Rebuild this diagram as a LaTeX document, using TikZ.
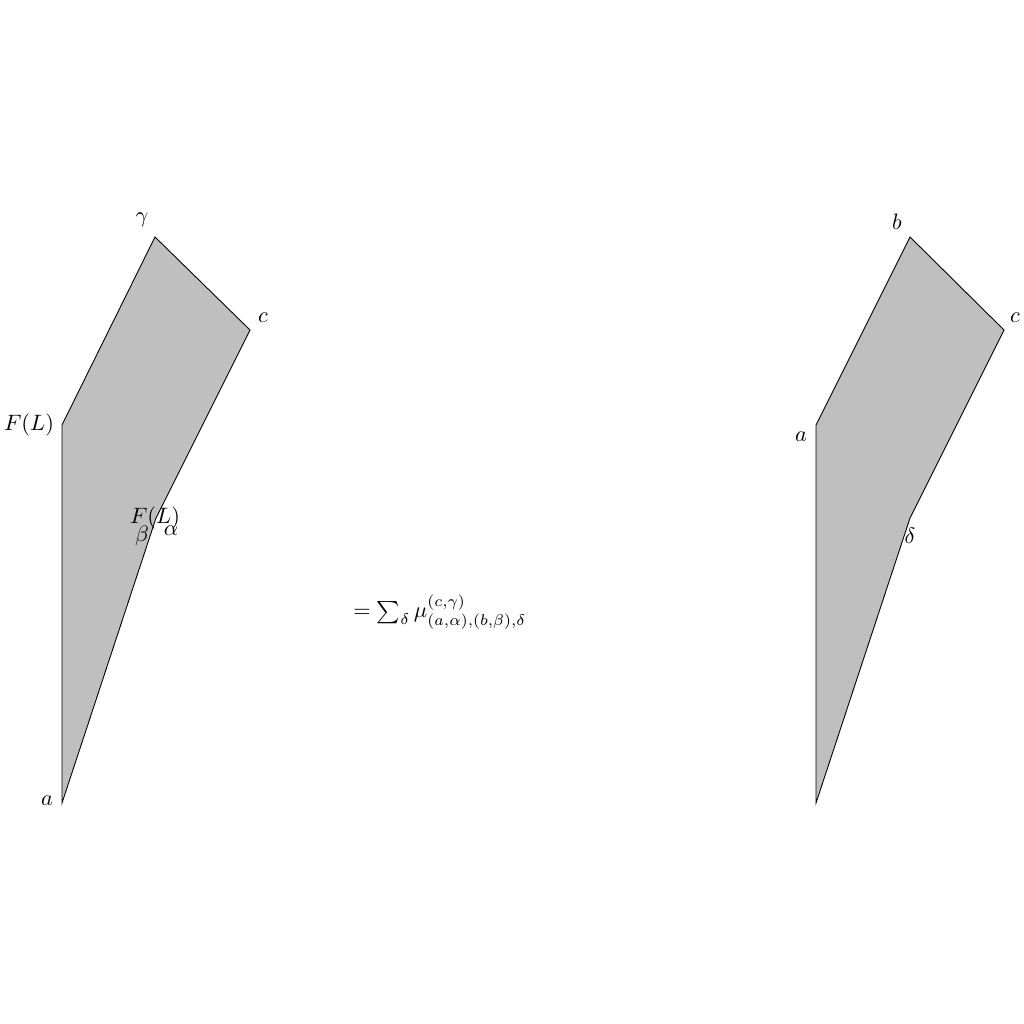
\documentclass[tikz,border=0pt]{standalone}
\begin{document}
\begin{tikzpicture}[x=0.449pt,y=-0.449pt,
  region/.style={draw=black,fill=gray!50,line width=0.4pt,line join=miter},
  lbl/.style={inner sep=0pt}]
\useasboundingbox (0,0) rectangle (1024,1024);
% left region
\coordinate (LA) at (62,425);
\coordinate (LB) at (155,237);
\coordinate (LC) at (250,330);
\coordinate (LK) at (156,518);
\coordinate (LD) at (62,803);
\draw[region] (LA) -- (LB) -- (LC) -- (LK) -- (LD) -- cycle;
\node[lbl] (lgamma) at (142,220) {$\gamma$};
\node[lbl] (lc) at (263,318) {$c$};
\node[lbl] (lFL) at (29,425) {$F(L)$};
\node[lbl] (la) at (47,801) {$a$};
\node[lbl] (lFL2) at (155,518) {$F(L)$};
\node[lbl] (lbeta) at (142,536) {$\beta$};
\node[lbl] (lalpha) at (171,531) {$\alpha$};
% formula
\node[lbl,anchor=west] (eq) at (353,612) {$=\sum_\delta \mu^{(c,\gamma)}_{(a,\alpha),(b,\beta),\delta}$};
% right region
\coordinate (RA) at (816,425);
\coordinate (RB) at (910,237);
\coordinate (RC) at (1004,330);
\coordinate (RK) at (910,518);
\coordinate (RD) at (816,803);
\draw[region] (RA) -- (RB) -- (RC) -- (RK) -- (RD) -- cycle;
\node[lbl] (rb) at (897,222) {$b$};
\node[lbl] (rc) at (1015,318) {$c$};
\node[lbl] (ra) at (801,437) {$a$};
\node[lbl] (rdelta) at (910,536) {$\delta$};
\end{tikzpicture}
\end{document}
